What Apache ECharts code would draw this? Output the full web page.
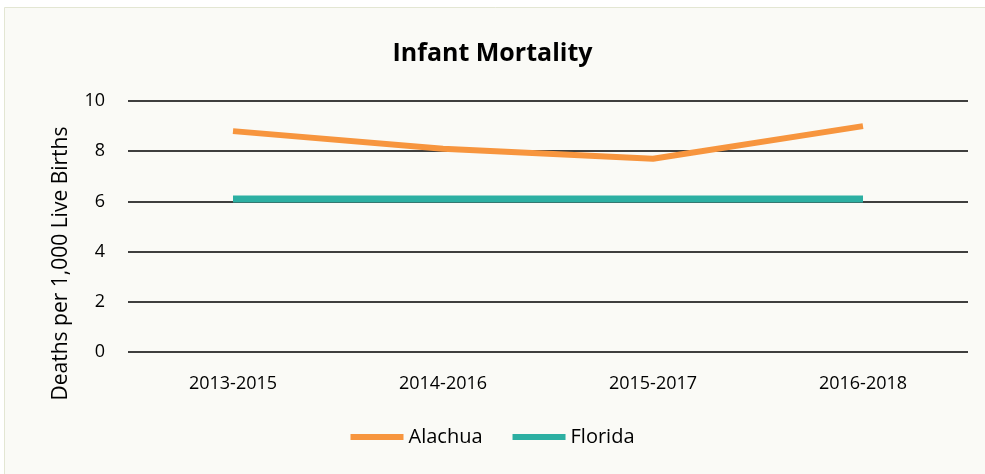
<!DOCTYPE html>
<html>
<head>
<meta charset="utf-8">
<script src="https://cdn.jsdelivr.net/npm/echarts@6/dist/echarts.min.js"></script>
<style>
html,body{margin:0;padding:0;background:#fff;}
#main{width:985px;height:474px;}
</style>
</head>
<body>
<div id="main"></div>
<script>
// data
var periods = ['2013-2015', '2014-2016', '2015-2017', '2016-2018'];
var alachua = [8.8, 8.1, 7.7, 9.0];
var florida = [6.1, 6.1, 6.1, 6.1];
var yTicks = [0, 10, 2]; // min, max, interval

var font = '"Open Sans", "Noto Sans", sans-serif';
var chart = echarts.init(document.getElementById('main'));
chart.setOption({
	backgroundColor: '#ffffff',
	graphic: [{
		type: 'rect',
		shape: {x: 4.5, y: 7.5, width: 990, height: 480},
		style: {fill: '#fafaf6', stroke: '#e3e6d3', lineWidth: 1},
		z: -10
	}],
	title: {
		text: 'Infant Mortality',
		left: 'center',
		top: 36,
		textStyle: {fontFamily: font, fontSize: 25, fontWeight: 'bold', color: '#000'}
	},
	legend: {
		bottom: 22,
		left: 'center',
		itemWidth: 53,
		itemHeight: 6,
		itemGap: 30,
		icon: 'rect',
		textStyle: {fontFamily: font, fontSize: 20, color: '#000'},
		data: ['Alachua', 'Florida']
	},
	grid: {left: 128, right: 17, top: 101, bottom: 122},
	xAxis: {
		type: 'category',
		data: periods,
		boundaryGap: true,
		axisLine: {show: false},
		axisTick: {show: false},
		axisLabel: {fontFamily: font, fontSize: 18, color: '#000', margin: 23}
	},
	yAxis: {
		type: 'value',
		min: yTicks[0],
		max: yTicks[1],
		interval: yTicks[2],
		name: 'Deaths per 1,000 Live Births',
		nameLocation: 'middle',
		nameGap: 56,
		// excel puts the title a little below the plot centre
		nameTextStyle: {fontFamily: font, fontSize: 21, color: '#000', padding: [0, 74, 0, 0]},
		axisLine: {show: false},
		axisTick: {show: false},
		axisLabel: {fontFamily: font, fontSize: 18, color: '#000', margin: 23},
		splitLine: {lineStyle: {color: '#000', width: 1.5}}
	},
	series: [{
		name: 'Alachua',
		type: 'line',
		data: alachua,
		symbol: 'none',
		color: '#f7953e',
		lineStyle: {width: 6, color: '#f7953e'},
		z: 3
	}, {
		name: 'Florida',
		type: 'line',
		data: florida,
		symbol: 'none',
		color: '#2cafa2',
		lineStyle: {width: 7, color: '#2cafa2', cap: 'butt'},
		z: 2
	}]
});
</script>
</body>
</html>
